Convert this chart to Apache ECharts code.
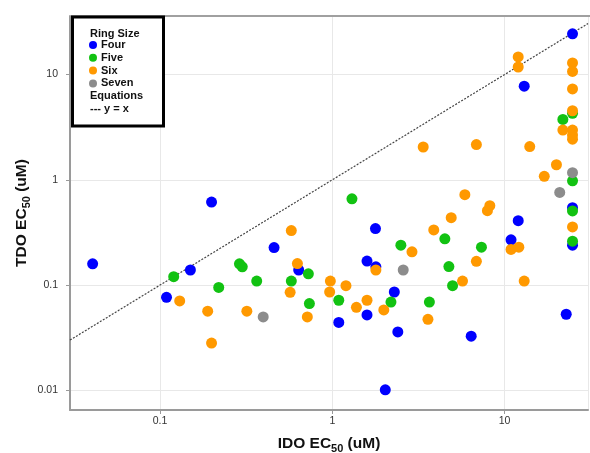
<!DOCTYPE html>
<html>
<head>
<meta charset="utf-8">
<script src="https://cdn.jsdelivr.net/npm/echarts@6/dist/echarts.min.js"></script>
<style>html,body{margin:0;padding:0;background:#fff}#c{width:590px;height:453px}</style>
</head>
<body>
<div id="c"></div>
<script>
// Ring Size: Four
const fourIDO = [0.0406, 0.199, 0.150, 0.109, 0.459, 1.78, 0.638, 1.59, 1.79, 2.29, 1.09, 1.59, 2.40, 2.03, 24.8, 13.0, 24.8, 12.0, 10.9, 24.8, 22.8, 6.40];
const fourTDO = [0.159, 0.615, 0.139, 0.0765, 0.227, 0.344, 0.139, 0.169, 0.149, 0.0859, 0.0441, 0.052, 0.0359, 0.0101, 24.4, 7.75, 0.543, 0.409, 0.269, 0.239, 0.0528, 0.0327];
// Ring Size: Five
const fiveIDO = [0.120, 0.219, 0.289, 0.300, 0.364, 1.30, 4.50, 2.50, 0.726, 4.75, 0.578, 0.736, 1.09, 2.19, 3.66, 24.8, 21.8, 24.8, 24.8, 7.34, 24.8, 4.99];
const fiveTDO = [0.120, 0.095, 0.159, 0.149, 0.109, 0.66, 0.275, 0.239, 0.128, 0.150, 0.109, 0.0667, 0.0717, 0.069, 0.069, 4.28, 3.75, 0.978, 0.506, 0.229, 0.261, 0.0987];
// Ring Size: Six
const sixIDO = [0.130, 0.189, 0.199, 0.319, 3.37, 0.578, 3.88, 2.90, 0.627, 1.79, 0.569, 0.974, 0.965, 1.20, 1.38, 1.59, 1.99, 0.716, 3.59, 12.0, 12.0, 24.8, 24.8, 24.8, 24.8, 21.8, 24.8, 24.8, 24.8, 6.86, 14.0, 20.0, 17.0, 5.88, 8.21, 7.95, 4.90, 24.8, 10.9, 12.1, 6.86, 5.70, 13.0];
const sixTDO = [0.0706, 0.0564, 0.0281, 0.0564, 2.05, 0.329, 0.334, 0.207, 0.160, 0.139, 0.0853, 0.109, 0.0859, 0.0987, 0.0615, 0.0717, 0.058, 0.0498, 0.0473, 14.7, 11.8, 12.9, 10.7, 7.31, 4.53, 2.97, 2.97, 2.66, 2.43, 2.16, 2.07, 1.39, 1.08, 0.722, 0.568, 0.509, 0.437, 0.357, 0.218, 0.229, 0.168, 0.109, 0.109];
// Ring Size: Seven
const sevenIDO = [0.397, 2.58, 24.8, 20.9];
const sevenTDO = [0.0498, 0.139, 1.17, 0.759];
// Equation y = x endpoints
const identityLine = [0.03, 30.5];
// Axis ranges
const xRange = [0.03, 30.5];
const yRange = [0.0065, 36];

const pair = (xs, ys) => xs.map((v, i) => [v, ys[i]]);
const colors = { Four: '#0000ff', Five: '#12c212', Six: '#ff9900', Seven: '#8c8c8c' };

const chart = echarts.init(document.getElementById('c'), null, { renderer: 'canvas' });
const labelFont = { fontFamily: 'Liberation Sans', fontSize: 10.5, color: '#333' };
const titleRich = {
  a: { fontFamily: 'Liberation Sans', fontWeight: 'bold', fontSize: 15.5, color: '#111', lineHeight: 22 },
  b: { fontFamily: 'Liberation Sans', fontWeight: 'bold', fontSize: 11, color: '#111', lineHeight: 22, padding: [10, 0, 0, 0] }
};
function scatter(name, xs, ys) {
  return {
    name, type: 'scatter', data: pair(xs, ys), symbol: 'circle', symbolSize: 11, z: 3,
    itemStyle: { color: colors[name], opacity: 1 }
  };
}
chart.setOption({
  animation: false,
  backgroundColor: '#fff',
  grid: { left: 70, right: 2, top: 16, bottom: 43, containLabel: false, outerBoundsMode: 'none' },
  xAxis: {
    type: 'log', logBase: 10, min: xRange[0], max: xRange[1],
    name: '{a|IDO EC}{b|50}{a| (uM)}', nameLocation: 'middle', nameGap: 23,
    nameTextStyle: { rich: titleRich },
    axisLine: { show: true, lineStyle: { color: '#9a9a9a', width: 2 } },
    axisTick: { show: true, length: 4, lineStyle: { color: '#9a9a9a' } },
    axisLabel: Object.assign({ showMinLabel: false, showMaxLabel: false, margin: 6 }, labelFont),
    splitLine: { show: true, lineStyle: { color: '#e8e8e8', width: 1 } },
    minorTick: { show: false }
  },
  yAxis: {
    type: 'log', logBase: 10, min: yRange[0], max: yRange[1],
    name: '{a|TDO EC}{b|50}{a| (uM)}', nameLocation: 'middle', nameGap: 37, nameRotate: 90,
    nameMoveOverlap: false,
    nameTextStyle: { rich: titleRich },
    axisLine: { show: true, lineStyle: { color: '#9a9a9a', width: 2 } },
    axisTick: { show: true, length: 4, lineStyle: { color: '#9a9a9a' } },
    axisLabel: Object.assign({ showMinLabel: false, showMaxLabel: false, margin: 12 }, labelFont),
    splitLine: { show: true, lineStyle: { color: '#e8e8e8', width: 1 } }
  },
  legend: {
    data: ['Four', 'Five', 'Six', 'Seven'],
    orient: 'vertical', left: 89, top: 39.5, padding: 0, itemWidth: 8, itemHeight: 8, itemGap: 1.8,
    icon: 'circle', z: 20,
    textStyle: { fontFamily: 'Liberation Sans', fontWeight: 'bold', fontSize: 11, color: '#111', padding: [0, 0, 0, -1] }
  },
  graphic: [
    { type: 'rect', z: 15, shape: { x: 72.5, y: 17, width: 91, height: 109 },
      style: { fill: '#fff', stroke: '#000', lineWidth: 3 } },
    { type: 'line', z: 14, shape: { x1: 71, y1: 16, x2: 590, y2: 16 },
      style: { stroke: '#a0a0a0', lineWidth: 2 } },
    { type: 'text', z: 16, x: 90, y: 34, style: { text: 'Ring Size', font: 'bold 11px "Liberation Sans"', fill: '#111', textVerticalAlign: 'middle' } },
    { type: 'text', z: 16, x: 90, y: 96, style: { text: 'Equations', font: 'bold 11px "Liberation Sans"', fill: '#111', textVerticalAlign: 'middle' } },
    { type: 'text', z: 16, x: 90, y: 109, style: { text: '--- y = x', font: 'bold 11px "Liberation Sans"', fill: '#111', textVerticalAlign: 'middle' } }
  ],
  series: [
    {
      name: 'y = x', type: 'line', data: identityLine.map(v => [v, v]), symbol: 'none', z: 2,
      lineStyle: { color: '#444', width: 1.2, type: [2, 1.5] }, silent: true
    },
    scatter('Four', fourIDO, fourTDO),
    scatter('Five', fiveIDO, fiveTDO),
    scatter('Six', sixIDO, sixTDO),
    scatter('Seven', sevenIDO, sevenTDO)
  ]
});
</script>
</body>
</html>
